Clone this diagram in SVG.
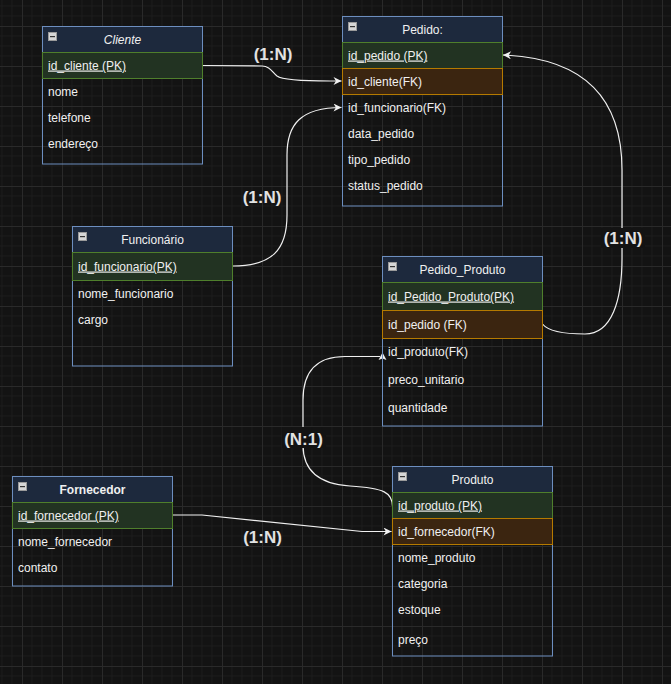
<svg xmlns="http://www.w3.org/2000/svg" width="671" height="684" viewBox="0 0 671 684">
  <defs>
    <pattern id="grid" x="22" y="26" width="40" height="40" patternUnits="userSpaceOnUse">
      <path d="M10,0V40M20,0V40M30,0V40M0,10H40M0,20H40M0,30H40" stroke="#1b1b1b" stroke-width="1" fill="none"/>
      <path d="M0.5,0V40M0,0.5H40" stroke="#2a2a2a" stroke-width="1" fill="none"/>
    </pattern>
    <marker id="arrow" viewBox="0 0 10 10" markerUnits="userSpaceOnUse" markerWidth="9" markerHeight="8" refX="10" refY="5" orient="auto">
      <path d="M0,0 L10,5 L0,10 L3,5 z" fill="#f0f0f0"/>
    </marker>
    <symbol id="collapse" viewBox="0 0 9 9">
      <rect x="0.5" y="0.5" width="8" height="8" fill="#d6d6d6" stroke="#9a9a9a"/>
      <rect x="2" y="4" width="5" height="1.2" fill="#333"/>
    </symbol>
  </defs>
  <style>
    .tbl { fill: none; stroke: #6c8ebf; stroke-width: 1; }
    .hdr { fill: #1d293d; stroke: #6c8ebf; stroke-width: 1; }
    .pk { fill: #223322; stroke: #4f7f2c; stroke-width: 1; }
    .fk { fill: #3b2510; stroke: #b57a00; stroke-width: 1; }
    text { font-family: "Liberation Sans", Arial, sans-serif; font-size: 12px; fill: #f0f0f0; }
    .title { text-anchor: middle; }
    .u { text-decoration: underline; }
    .lbl { font-size: 17px; font-weight: bold; fill: #e2e2e2; text-anchor: middle; }
    .edge { fill: none; stroke: #f0f0f0; stroke-width: 1.2; }
  </style>

  <!-- canvas -->
  <rect width="671" height="684" fill="#131313"/>
  <rect width="671" height="684" fill="url(#grid)"/>

  <!-- relationships -->
  <g id="connectors">
    <path class="edge" d="M202.5,65.5 L262,66 C270,66 272,72 277,76 C281,79 292,81 330,81 L341.5,81" marker-end="url(#arrow)"/>
    <path class="edge" d="M232.5,266 C272,266 287,250 287,215 L287,155 C287,125 300,107.5 341.5,107.5" marker-end="url(#arrow)"/>
    <path class="edge" d="M542.5,324 C548,331 565,334 585,334 C612,334 622,300 622,258 L622,170 C622,95 580,58 503,55" marker-end="url(#arrow)"/>
    <path class="edge" d="M392.5,506 C392,493 385,488 350,486 C318,484 303,470 303,445 L303,400 C303,370 318,356.5 345,356.5 L380,356.5"/>
    <path d="M382.5,352.5 L386.5,360 L382.5,358.5 L378.5,360 z" fill="#f0f0f0"/>
    <path class="edge" d="M172.5,515 L202,515 L362,531.5 L391.5,531.5" marker-end="url(#arrow)"/>

    <text class="lbl" x="273" y="60">(1:N)</text>
    <text class="lbl" x="262" y="203">(1:N)</text>
    <rect x="601" y="228" width="44" height="20" fill="#131313"/>
    <text class="lbl" x="623" y="244">(1:N)</text>
    <rect x="282" y="427" width="44" height="21" fill="#131313"/>
    <text class="lbl" x="303.5" y="445">(N:1)</text>
    <text class="lbl" x="262.5" y="543">(1:N)</text>
  </g>

  <!-- Cliente -->
  <g id="cliente">
    <rect class="tbl" x="42.5" y="26.5" width="160" height="137.5"/>
    <rect class="hdr" x="42.5" y="26.5" width="160" height="26"/>
    <use href="#collapse" x="48" y="32" width="9" height="9"/>
    <text class="title" x="122.5" y="44" font-style="italic">Cliente</text>
    <rect class="pk" x="42.5" y="52.5" width="160" height="26"/>
    <text class="u" x="48" y="69.5">id_cliente (PK)</text>
    <text x="48" y="95.5">nome</text>
    <text x="48" y="121.5">telefone</text>
    <text x="48" y="147.5">endereço</text>
  </g>

  <!-- Pedido -->
  <g id="pedido">
    <rect class="tbl" x="342.5" y="16.5" width="160" height="189.5"/>
    <rect class="hdr" x="342.5" y="16.5" width="160" height="26"/>
    <use href="#collapse" x="348" y="22" width="9" height="9"/>
    <text class="title" x="422.5" y="34">Pedido:</text>
    <rect class="pk" x="342.5" y="42.5" width="160" height="26"/>
    <text class="u" x="348" y="59.5">id_pedido (PK)</text>
    <rect class="fk" x="342.5" y="68.5" width="160" height="26"/>
    <text x="348" y="85.5">id_cliente(FK)</text>
    <text x="348" y="111.5">id_funcionario(FK)</text>
    <text x="348" y="137.5">data_pedido</text>
    <text x="348" y="163.5">tipo_pedido</text>
    <text x="348" y="189.5">status_pedido</text>
  </g>

  <!-- Funcionário -->
  <g id="funcionario">
    <rect class="tbl" x="72.5" y="226.5" width="160" height="139.5"/>
    <rect class="hdr" x="72.5" y="226.5" width="160" height="26"/>
    <use href="#collapse" x="78" y="232" width="9" height="9"/>
    <text class="title" x="152.5" y="244">Funcionário</text>
    <rect class="pk" x="72.5" y="252.5" width="160" height="28"/>
    <text class="u" x="78" y="270.5">id_funcionario(PK)</text>
    <text x="78" y="297.5">nome_funcionario</text>
    <text x="78" y="324">cargo</text>
  </g>

  <!-- Pedido_Produto -->
  <g id="pedido_produto">
    <rect class="tbl" x="382.5" y="256.5" width="160" height="169.5"/>
    <rect class="hdr" x="382.5" y="256.5" width="160" height="26"/>
    <use href="#collapse" x="388" y="262" width="9" height="9"/>
    <text class="title" x="462.5" y="274">Pedido_Produto</text>
    <rect class="pk" x="382.5" y="282.5" width="160" height="28"/>
    <text class="u" x="388" y="300.5">id_Pedido_Produto(PK)</text>
    <rect class="fk" x="382.5" y="310.5" width="160" height="28"/>
    <text x="388" y="328.5">id_pedido (FK)</text>
    <text x="388" y="356">id_produto(FK)</text>
    <text x="388" y="384">preco_unitario</text>
    <text x="388" y="411.5">quantidade</text>
  </g>

  <!-- Fornecedor -->
  <g id="fornecedor">
    <rect class="tbl" x="12.5" y="476.5" width="160" height="109.5"/>
    <rect class="hdr" x="12.5" y="476.5" width="160" height="26"/>
    <use href="#collapse" x="18" y="482" width="9" height="9"/>
    <text class="title" x="92.5" y="494" font-weight="bold">Fornecedor</text>
    <rect class="pk" x="12.5" y="502.5" width="160" height="26"/>
    <text class="u" x="18" y="519.5">id_fornecedor (PK)</text>
    <text x="18" y="545.5">nome_fornecedor</text>
    <text x="18" y="571.5">contato</text>
  </g>

  <!-- Produto -->
  <g id="produto">
    <rect class="tbl" x="392.5" y="466.5" width="160" height="189.5"/>
    <rect class="hdr" x="392.5" y="466.5" width="160" height="26"/>
    <use href="#collapse" x="398" y="472" width="9" height="9"/>
    <text class="title" x="472.5" y="484">Produto</text>
    <rect class="pk" x="392.5" y="492.5" width="160" height="26"/>
    <text class="u" x="398" y="509.5">id_produto (PK)</text>
    <rect class="fk" x="392.5" y="518.5" width="160" height="26"/>
    <text x="398" y="535.5">id_fornecedor(FK)</text>
    <text x="398" y="561.5">nome_produto</text>
    <text x="398" y="587.5">categoria</text>
    <text x="398" y="613.5">estoque</text>
    <text x="398" y="644">preço</text>
  </g>
</svg>
